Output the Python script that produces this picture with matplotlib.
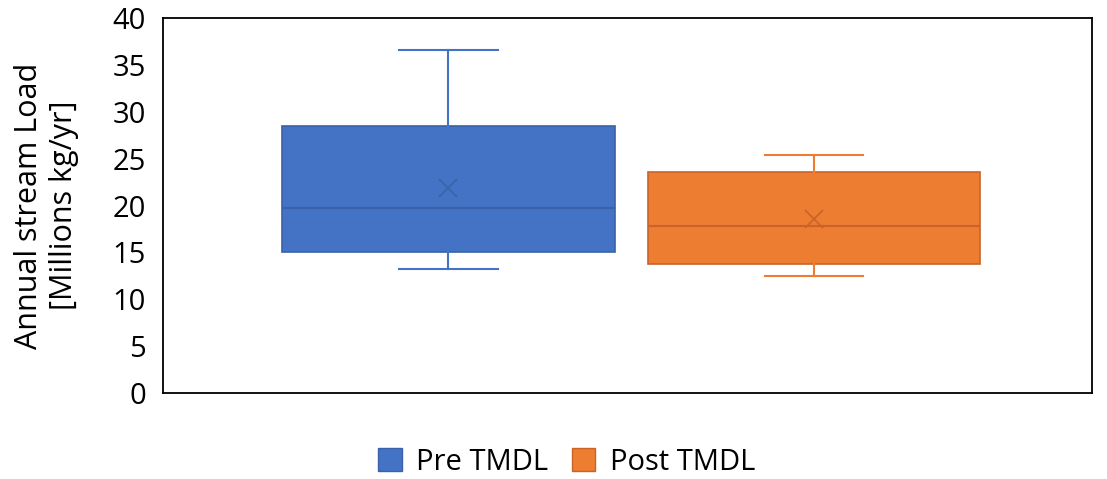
import matplotlib.pyplot as plt
from matplotlib.patches import Patch

plt.rcParams['font.family'] = ['Open Sans', 'DejaVu Sans']

# box plot statistics (millions kg/yr)
series = ['Pre TMDL', 'Post TMDL']
whislo = [13.2, 12.5]
q1 = [15.0, 13.75]
med = [19.7, 17.8]
q3 = [28.5, 23.6]
whishi = [36.6, 25.4]
means = [21.9, 18.6]

colors = ['#4472C4', '#ED7D31']
dark = ['#3A62A8', '#C8632A']

fig = plt.figure(figsize=(11.07, 4.79), dpi=100)
ax = fig.add_axes([0.147, 0.1795, 0.8395, 0.7829])

stats = []
for i in range(len(series)):
    stats.append({'label': series[i], 'whislo': whislo[i], 'q1': q1[i], 'med': med[i],
                  'q3': q3[i], 'whishi': whishi[i], 'mean': means[i]})

for i in range(len(series)):
    ax.bxp([stats[i]], positions=[i], widths=0.91, capwidths=0.27, showmeans=True,
           patch_artist=True, showfliers=False,
           boxprops=dict(facecolor=colors[i], edgecolor=dark[i], linewidth=1.2),
           whiskerprops=dict(color=colors[i], linewidth=1.5),
           capprops=dict(color=colors[i], linewidth=1.5),
           medianprops=dict(color=dark[i], linewidth=1.5),
           meanprops=dict(marker='x', markeredgecolor=dark[i], markersize=13, markeredgewidth=1.2))

ax.set_xlim(-0.78, 1.76)
ax.set_ylim(0, 40)
ax.set_yticks(range(0, 41, 5))
ax.set_xticks([])
ax.tick_params(axis='y', length=0, labelsize=21, pad=12)
for s in ax.spines.values():
    s.set_color('black')
    s.set_linewidth(1.3)

ax.set_ylabel('Annual stream Load\n[Millions kg/yr]', fontsize=22, linespacing=1.25, labelpad=24)

handles = [Patch(facecolor=colors[i], edgecolor=dark[i], label=series[i]) for i in range(len(series))]
fig.legend(handles=handles, loc='center', bbox_to_anchor=(0.512, 0.035), ncol=2, frameon=False,
           fontsize=21, handlelength=0.8, handleheight=0.8, handletextpad=0.5, columnspacing=0.8)

fig.savefig('out.png', dpi=100)
